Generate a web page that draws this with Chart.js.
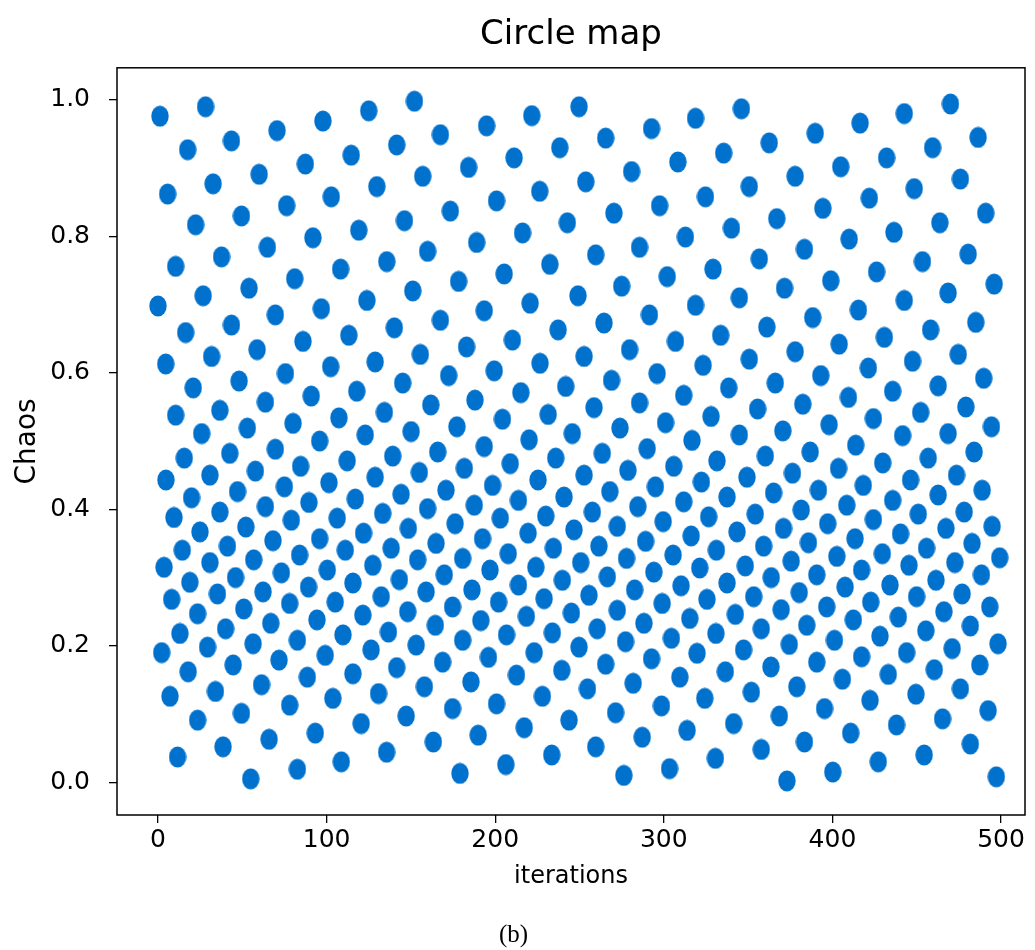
<!DOCTYPE html>
<html>
<head>
<meta charset="utf-8">
<title>Circle map</title>
<script src="https://cdn.jsdelivr.net/npm/chart.js@4.4.1/dist/chart.umd.min.js"></script>
<style>
  body { margin: 0; background: #fff; }
  #wrap { width: 1035px; height: 950px; }
</style>
</head>
<body>
<div id="wrap"><canvas id="chart" width="1035" height="950"></canvas></div>
<script>
// values, strip by strip (x = iteration, y = chaos value)
const iterations = [
  1.2,28.2,70.6,17.6,43.6,60.0,32.7,5.7,76.3,22.3,49.5,64.9,37.7,10.5,54.0,26.8,0.0,69.6,43.6,16.4,58.8,31.8,4.6,75.6,48.1,20.9,63.7,36.7,10.5,53.0,25.9,
  15.6,42.6,69.6,4.7,30.8,57.8,75.0,19.9,47.2,9.5,36.7,63.7,24.9,52.1,14.4,41.2,68.2,3.6,30.8,56.8,18.9,46.0,73.2,8.1,35.3,62.3,23.5,50.9,13.0,40.1,66.9,2.2,29.4,56.4,17.9,44.6,71.8,7.1,34.1,61.4,23.5,49.5,11.6,38.6,65.9,55.0,
  97.8,125.0,152.1,87.4,114.6,141.6,102.8,129.8,157.0,91.9,119.1,146.2,159.9,108.3,135.7,81.1,151.1,123.9,96.9,140.2,113.2,86.0,155.6,128.8,102.4,145.1,117.9,90.9,161.8,134.3,107.3,80.1,150.1,122.9,95.9,
  84.6,112.2,139.2,101.4,128.8,155.0,89.5,117.0,144.2,79.1,106.3,133.3,159.9,95.9,121.9,148.5,84.0,111.1,138.3,100.4,127.4,154.0,89.3,115.6,143.2,78.1,105.1,132.4,159.0,94.3,121.5,148.1,82.7,109.7,136.7,99.2,126.4,153.1,88.6,115.6,141.6,78.1,103.7,130.8,158.0,120.5,147.2,93.3,135.6,108.7,82.7,
  167.5,194.9,221.7,184.2,211.2,238.3,173.4,200.8,226.4,189.0,216.2,242.8,178.3,205.3,232.4,167.5,193.5,220.7,183.0,210.2,237.3,172.4,199.4,226.6,188.0,215.2,241.8,177.3,204.3,231.4,220.1,245.7,
  165.9,193.5,181.7,208.9,235.9,170.8,198.4,225.4,187.6,213.8,240.8,176.2,203.0,230.0,164.9,192.5,219.5,246.7,180.7,207.7,234.5,169.8,196.9,224.1,186.2,213.8,239.8,174.7,202.0,229.0,164.5,191.5,218.5,245.2,180.7,206.7,233.9,168.8,196.0,223.1,185.6,212.6,239.5,174.7,200.8,228.0,163.3,189.9,217.2,243.8,206.3,233.5,179.1,
  249.7,265.5,292.7,318.8,253.7,280.9,308.3,270.4,297.5,324.7,259.6,285.6,312.8,275.0,302.0,329.2,249.1,264.5,291.5,318.8,252.7,279.7,306.9,269.0,296.0,323.3,258.6,285.6,311.8,274.0,301.0,328.0,316.7,
  263.5,290.1,252.7,278.7,305.9,331.5,268.0,295.0,322.3,257.6,284.6,311.8,272.4,299.6,326.6,261.5,289.2,316.2,250.7,277.9,305.5,331.2,266.5,294.1,321.3,255.6,282.7,310.2,272.4,299.0,325.6,260.5,288.2,315.4,249.7,277.3,304.5,330.9,265.5,292.7,319.7,254.7,281.8,309.5,271.4,298.6,324.3,259.6,287.2,313.8,276.3,303.4,330.6,
  346.0,335.5,362.5,389.8,416.4,350.7,377.9,404.9,340.1,367.0,394.3,356.6,383.4,409.9,344.8,371.6,399.0,333.7,361.1,388.3,415.4,350.7,377.9,404.0,338.5,366.1,393.1,355.6,382.4,409.5,344.8,370.6,398.0,
  386.8,413.8,360.2,349.3,376.3,403.6,337.5,365.1,391.7,418.3,354.2,381.5,408.5,343.4,371.0,397.2,359.2,385.8,413.4,348.3,375.5,402.6,337.5,363.7,390.7,417.3,353.3,380.3,407.5,342.4,369.6,396.6,357.8,384.8,412.4,347.3,374.4,401.2,336.5,363.5,390.7,417.3,351.9,378.9,405.9,341.4,368.5,395.3,357.8,383.4,410.8,373.0,400.2,
  442.6,470.0,432.1,459.4,486.4,421.9,448.5,475.9,436.5,463.7,490.9,426.2,453.4,480.5,442.6,468.6,495.9,430.8,458.2,485.0,421.3,447.5,474.6,435.7,462.7,489.7,424.3,452.3,479.1,494.3,441.6,468.6,
  484.0,429.8,456.8,446.3,473.6,488.8,435.7,462.7,424.3,450.9,478.1,494.7,440.4,467.3,429.6,455.8,482.8,499.2,445.4,472.6,434.1,461.4,488.4,422.7,449.9,476.9,493.3,439.1,466.1,428.2,455.4,481.8,498.2,444.0,471.0,433.1,460.4,487.4,422.3,449.5,475.9,438.0,465.3,492.3,427.2,454.4,481.8,497.2
];
const chaos = [
  0.976,0.990,0.955,0.927,0.940,0.891,0.877,0.862,0.845,0.817,0.830,0.784,0.770,0.756,0.724,0.713,0.698,0.685,0.670,0.659,0.634,0.624,0.613,0.599,0.588,0.578,0.557,0.545,0.538,0.519,0.511,
  0.475,0.482,0.488,0.443,0.450,0.456,0.433,0.417,0.426,0.388,0.396,0.404,0.367,0.374,0.340,0.346,0.354,0.315,0.322,0.326,0.293,0.300,0.307,0.268,0.276,0.279,0.247,0.254,0.218,0.225,0.233,0.190,0.198,0.203,0.162,0.172,0.179,0.126,0.133,0.143,0.091,0.101,0.037,0.052,0.063,0.005,
  0.969,0.984,0.998,0.906,0.919,0.934,0.858,0.873,0.888,0.798,0.809,0.823,0.778,0.752,0.763,0.738,0.720,0.706,0.694,0.666,0.655,0.646,0.627,0.616,0.609,0.585,0.573,0.566,0.553,0.542,0.534,0.526,0.514,0.509,0.500,
  0.463,0.471,0.478,0.439,0.447,0.454,0.410,0.415,0.422,0.384,0.387,0.394,0.401,0.357,0.365,0.372,0.333,0.340,0.343,0.311,0.318,0.326,0.286,0.292,0.297,0.262,0.264,0.272,0.279,0.238,0.245,0.250,0.208,0.216,0.220,0.186,0.194,0.201,0.154,0.159,0.168,0.113,0.123,0.130,0.140,0.086,0.097,0.072,0.044,0.030,0.019,
  0.949,0.962,0.977,0.901,0.915,0.930,0.837,0.852,0.866,0.791,0.805,0.820,0.734,0.745,0.759,0.677,0.691,0.702,0.638,0.648,0.663,0.596,0.603,0.614,0.560,0.571,0.580,0.521,0.532,0.539,0.502,0.511,
  0.484,0.492,0.460,0.467,0.475,0.428,0.435,0.443,0.406,0.413,0.418,0.379,0.387,0.390,0.350,0.357,0.365,0.370,0.328,0.335,0.343,0.304,0.311,0.315,0.282,0.289,0.296,0.257,0.264,0.269,0.230,0.237,0.243,0.248,0.208,0.216,0.219,0.176,0.183,0.190,0.147,0.157,0.164,0.108,0.115,0.126,0.059,0.069,0.080,0.091,0.026,0.040,0.013,
  0.990,0.944,0.958,0.973,0.880,0.895,0.909,0.834,0.845,0.858,0.773,0.784,0.799,0.727,0.741,0.752,0.713,0.673,0.685,0.699,0.624,0.634,0.646,0.589,0.599,0.611,0.549,0.556,0.567,0.519,0.527,0.536,0.501,
  0.482,0.489,0.450,0.457,0.463,0.471,0.426,0.433,0.440,0.396,0.404,0.411,0.375,0.382,0.389,0.346,0.353,0.361,0.322,0.328,0.333,0.340,0.301,0.308,0.314,0.274,0.282,0.288,0.252,0.262,0.268,0.225,0.233,0.240,0.198,0.206,0.211,0.218,0.173,0.181,0.189,0.137,0.145,0.154,0.102,0.112,0.123,0.052,0.066,0.076,0.010,0.020,0.035,
  0.987,0.922,0.937,0.951,0.966,0.873,0.888,0.902,0.812,0.826,0.841,0.767,0.781,0.796,0.710,0.724,0.735,0.655,0.667,0.681,0.692,0.620,0.631,0.642,0.578,0.585,0.596,0.547,0.554,0.564,0.509,0.515,0.524,
  0.484,0.494,0.478,0.447,0.453,0.460,0.418,0.424,0.428,0.435,0.393,0.399,0.406,0.367,0.372,0.379,0.346,0.351,0.357,0.317,0.324,0.331,0.292,0.300,0.304,0.311,0.272,0.278,0.286,0.246,0.253,0.257,0.225,0.230,0.238,0.194,0.202,0.208,0.162,0.169,0.176,0.184,0.132,0.140,0.151,0.086,0.097,0.108,0.048,0.059,0.072,0.002,0.015,
  0.980,0.994,0.915,0.930,0.945,0.856,0.870,0.884,0.806,0.820,0.834,0.748,0.763,0.774,0.706,0.717,0.730,0.652,0.663,0.674,0.607,0.617,0.627,0.573,0.581,0.592,0.533,0.542,0.550,0.521,0.508,0.511,
  0.484,0.468,0.475,0.443,0.450,0.428,0.413,0.421,0.385,0.393,0.396,0.375,0.364,0.372,0.335,0.343,0.350,0.329,0.318,0.322,0.289,0.296,0.304,0.264,0.272,0.276,0.257,0.242,0.250,0.214,0.222,0.229,0.203,0.190,0.196,0.158,0.165,0.172,0.120,0.129,0.137,0.084,0.093,0.105,0.030,0.040,0.056,0.008
];
const xTicks = [0, 100, 200, 300, 400, 500];
const yTicks = [0.0, 0.2, 0.4, 0.6, 0.8, 1.0];

const points = iterations.map((x, i) => ({ x: x, y: chaos[i] }));

// dots in the picture are a little taller than wide
const dot = document.createElement('canvas');
dot.width = 18;
dot.height = 22;
const dctx = dot.getContext('2d');
dctx.fillStyle = '#0071cd';
dctx.beginPath();
dctx.ellipse(9, 11, 8.7, 10.6, 0, 0, Math.PI * 2);
dctx.fill();

// full box round the plot
const frame = {
    id: 'frame',
    afterDraw(chart) {
        const { ctx, chartArea: a } = chart;
        ctx.save();
        ctx.strokeStyle = '#000';
        ctx.lineWidth = 1.5;
        ctx.strokeRect(a.left, a.top, a.right - a.left, a.bottom - a.top);
        ctx.restore();
    }
};

Chart.defaults.font.family = 'DejaVu Sans';
Chart.defaults.color = '#000';

const tickFont = { family: 'DejaVu Sans', size: 25 };

new Chart(document.getElementById('chart'), {
    type: 'scatter',
    data: {
        datasets: [{
            data: points,
            pointStyle: dot,
            pointRadius: 9,
            pointHoverRadius: 9,
            showLine: false
        }]
    },
    options: {
        responsive: false,
        animation: false,
        layout: { padding: { left: 0, right: 8, top: 0, bottom: 0 } },
        plugins: {
            legend: { display: false },
            tooltip: { enabled: false },
            title: {
                display: true,
                fullSize: false,
                text: 'Circle map',
                color: '#000',
                font: { family: 'DejaVu Sans', size: 34, weight: 'normal' },
                padding: { top: 15, bottom: 12 }
            },
            subtitle: {
                display: true,
                text: '(b)',
                position: 'bottom',
                color: '#000',
                font: { family: 'Liberation Serif', size: 25, weight: 'normal' },
                padding: { top: 0, bottom: 0 }
            }
        },
        scales: {
            x: {
                type: 'linear',
                min: -24.3,
                max: 514.2,
                afterBuildTicks: s => { s.ticks = xTicks.map(v => ({ value: v })); },
                afterFit: s => { s.height = 105; },
                border: { display: false },
                grid: { drawOnChartArea: false, drawTicks: true, tickLength: 8, color: '#000', lineWidth: 1.3 },
                ticks: { font: tickFont, padding: 2, autoSkip: false, maxRotation: 0, callback: v => v },
                title: {
                    display: true,
                    text: 'iterations',
                    font: { family: 'DejaVu Sans', size: 24 },
                    padding: { top: 0, bottom: 29 }
                }
            },
            y: {
                type: 'linear',
                min: -0.048,
                max: 1.047,
                afterBuildTicks: s => { s.ticks = yTicks.map(v => ({ value: v })); },
                afterFit: s => { s.width = 117; },
                border: { display: false },
                grid: { drawOnChartArea: false, drawTicks: true, tickLength: 8, color: '#000', lineWidth: 1.3 },
                ticks: { font: tickFont, padding: 19, autoSkip: false, callback: v => v.toFixed(1) },
                title: {
                    display: true,
                    text: 'Chaos',
                    font: { family: 'DejaVu Sans', size: 28 },
                    padding: { top: 11, bottom: 0 }
                }
            }
        }
    },
    plugins: [frame]
});
</script>
</body>
</html>
